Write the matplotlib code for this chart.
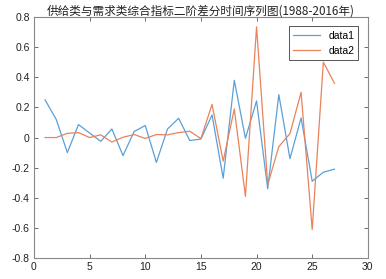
import numpy as np
import matplotlib.pyplot as plt

plt.rcParams['font.family'] = ['Liberation Sans', 'Noto Sans CJK SC', 'DejaVu Sans']

x = np.arange(1, 28)
data1 = [0.25, 0.12, -0.10, 0.086, 0.03, -0.025, 0.057, -0.12, 0.04, 0.08,
         -0.165, 0.057, 0.128, -0.02, -0.01, 0.15, -0.27, 0.38, -0.005, 0.243,
         -0.34, 0.285, -0.14, 0.13, -0.29, -0.23, -0.21]
data2 = [0.0, 0.0, 0.028, 0.033, 0.0, 0.018, -0.03, 0.002, 0.02, -0.006,
         0.02, 0.018, 0.033, 0.042, -0.007, 0.22, -0.157, 0.19, -0.39, 0.735,
         -0.313, -0.06, 0.026, 0.30, -0.61, 0.50, 0.36]

fig = plt.figure(figsize=(3.86, 2.79), dpi=100)
ax = fig.add_axes([0.088, 0.075, 0.865, 0.864])

ax.plot(x, data1, color='#5aa0d8', lw=0.9, label='data1')
ax.plot(x, data2, color='#e8835a', lw=0.9, label='data2')

ax.set_xlim(0, 30)
ax.set_ylim(-0.8, 0.8)
ax.set_xticks([0, 5, 10, 15, 20, 25, 30])
ax.set_yticks(np.arange(-0.8, 0.81, 0.2))
ax.set_yticklabels(['-0.8', '-0.6', '-0.4', '-0.2', '0', '0.2', '0.4', '0.6', '0.8'])
ax.tick_params(direction='in', top=True, right=True, labelsize=7.5, length=3,
               width=0.6, color='#555555', pad=3, labelcolor='#222222')
for s in ax.spines.values():
    s.set_color('#888888')
    s.set_linewidth(0.8)

ax.set_title('供给类与需求类综合指标二阶差分时间序列图(1988-2016年)', fontsize=8.4,
             fontweight='medium', pad=2, color='#222222',
             family=['Noto Sans CJK SC', 'DejaVu Sans'])
leg = ax.legend(loc='upper right', fontsize=7.5, fancybox=False, framealpha=1,
                edgecolor='#555555', handlelength=2.6, borderaxespad=0.9)
leg.get_frame().set_linewidth(0.7)

fig.savefig('out.png', dpi=100)
